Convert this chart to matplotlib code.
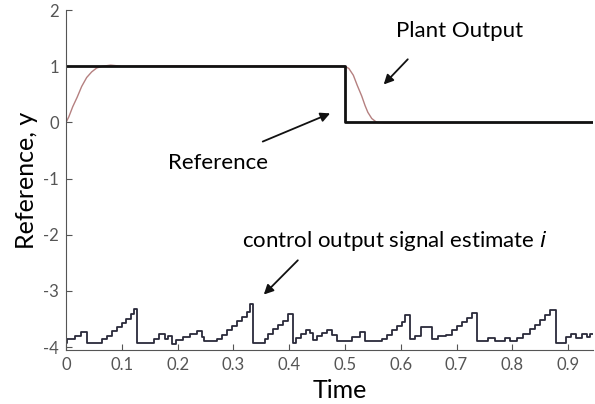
import numpy as np
import matplotlib
matplotlib.use("Agg")
from matplotlib import pyplot as plt

plt.rcParams['font.family'] = ['Lato', 'DejaVu Sans']
plt.rcParams['axes.unicode_minus'] = False

# reference step
ref_t = [0.0, 0.5, 0.5, 0.945]
ref_y = [1.0, 1.0, 0.0, 0.0]

# plant output
plant_t = [0.0, 0.005, 0.012, 0.02, 0.028, 0.037, 0.046, 0.055, 0.065, 0.08, 0.1,
           0.2, 0.3, 0.4, 0.5, 0.507, 0.515, 0.522, 0.53, 0.536, 0.541, 0.548,
           0.557, 0.57, 0.945]
plant_y = [0.0, 0.1, 0.28, 0.45, 0.64, 0.8, 0.9, 0.97, 1.0, 1.02, 1.0,
           1.01, 1.0, 1.01, 1.0, 0.96, 0.84, 0.66, 0.47, 0.3, 0.18, 0.07,
           0.0, -0.01, 0.0]

# staircase control output estimate
sig_t = [0.0, 0.002, 0.016, 0.026, 0.037, 0.064, 0.073, 0.082, 0.091, 0.1, 0.107,
         0.116, 0.122, 0.128, 0.158, 0.166, 0.177, 0.183, 0.19, 0.198, 0.21, 0.222,
         0.234, 0.243, 0.247, 0.27, 0.279, 0.288, 0.297, 0.306, 0.315, 0.324, 0.33,
         0.336, 0.357, 0.362, 0.371, 0.38, 0.389, 0.398, 0.407, 0.413, 0.422, 0.431,
         0.437, 0.443, 0.449, 0.458, 0.467, 0.476, 0.485, 0.512, 0.527, 0.536, 0.566,
         0.575, 0.584, 0.593, 0.602, 0.608, 0.617, 0.625, 0.637, 0.656, 0.667, 0.682,
         0.691, 0.7, 0.709, 0.718, 0.727, 0.736, 0.757, 0.769, 0.787, 0.796, 0.808,
         0.82, 0.832, 0.84, 0.849, 0.858, 0.867, 0.879, 0.897, 0.906, 0.915, 0.924,
         0.933, 0.939, 0.945]
sig_y = [-3.92, -3.86, -3.8, -3.74, -3.92, -3.86, -3.8, -3.72, -3.64, -3.57, -3.5,
         -3.42, -3.33, -3.92, -3.85, -3.76, -3.86, -3.8, -3.94, -3.88, -3.82, -3.77,
         -3.72, -3.82, -3.9, -3.85, -3.78, -3.7, -3.62, -3.54, -3.46, -3.38, -3.24,
         -3.92, -3.85, -3.76, -3.68, -3.6, -3.53, -3.42, -3.93, -3.83, -3.77, -3.7,
         -3.75, -3.88, -3.8, -3.75, -3.7, -3.78, -3.9, -3.82, -3.74, -3.9, -3.85,
         -3.78, -3.7, -3.62, -3.55, -3.43, -3.86, -3.8, -3.64, -3.86, -3.8, -3.78,
         -3.7, -3.62, -3.55, -3.48, -3.4, -3.9, -3.83, -3.9, -3.84, -3.9, -3.83,
         -3.76, -3.68, -3.6, -3.52, -3.43, -3.34, -3.93, -3.82, -3.76, -3.83, -3.76,
         -3.82, -3.76, -3.76]

xticks = [0, 0.1, 0.2, 0.3, 0.4, 0.5, 0.6, 0.7, 0.8, 0.9]
xtick_labels = ["0", "0.1", "0.2", "0.3", "0.4", "0.5", "0.6", "0.7", "0.8", "0.9"]
yticks = [-4, -3, -2, -1, 0, 1, 2]

fig = plt.figure(figsize=(5.95, 4.04), dpi=100)
ax = fig.add_axes([0.111, 0.134, 0.886, 0.841])

ax.plot(plant_t, plant_y, color="#b58080", lw=1.0)
ax.plot(ref_t, ref_y, color="#111111", lw=2.0)
ax.step(sig_t, sig_y, where="post", color="#2a2a3a", lw=1.3)

ax.set_xlim(0, 0.945)
ax.set_ylim(-4.05, 2)
ax.set_xticks(xticks, xtick_labels)
ax.set_yticks(yticks)
ax.tick_params(direction="in", length=4, labelsize=12, colors="#555555", pad=5)
for s in ["top", "right"]:
    ax.spines[s].set_visible(False)
for s in ["left", "bottom"]:
    ax.spines[s].set_color("#555555")

ax.set_xlabel("Time", fontsize=18, labelpad=2)
ax.xaxis.set_label_coords(0.52, -0.085)
ax.set_ylabel("Reference, y", fontsize=18, labelpad=4)

arrow = dict(arrowstyle="-|>", color="#111111", lw=1.3, mutation_scale=14)
ax.annotate("", xy=(0.566, 0.64), xytext=(0.616, 1.16), arrowprops=arrow)
ax.text(0.705, 1.62, "Plant Output", fontsize=16, ha="center", va="center")

ax.annotate("", xy=(0.478, 0.18), xytext=(0.348, -0.36), arrowprops=arrow)
ax.text(0.272, -0.72, "Reference", fontsize=16, ha="center", va="center")

ax.annotate("", xy=(0.351, -3.1), xytext=(0.419, -2.42), arrowprops=arrow)
ax.text(0.59, -2.12, "control output signal estimate $\\it{i}$", fontsize=16,
        ha="center", va="center")

plt.savefig("out.png", dpi=100)
